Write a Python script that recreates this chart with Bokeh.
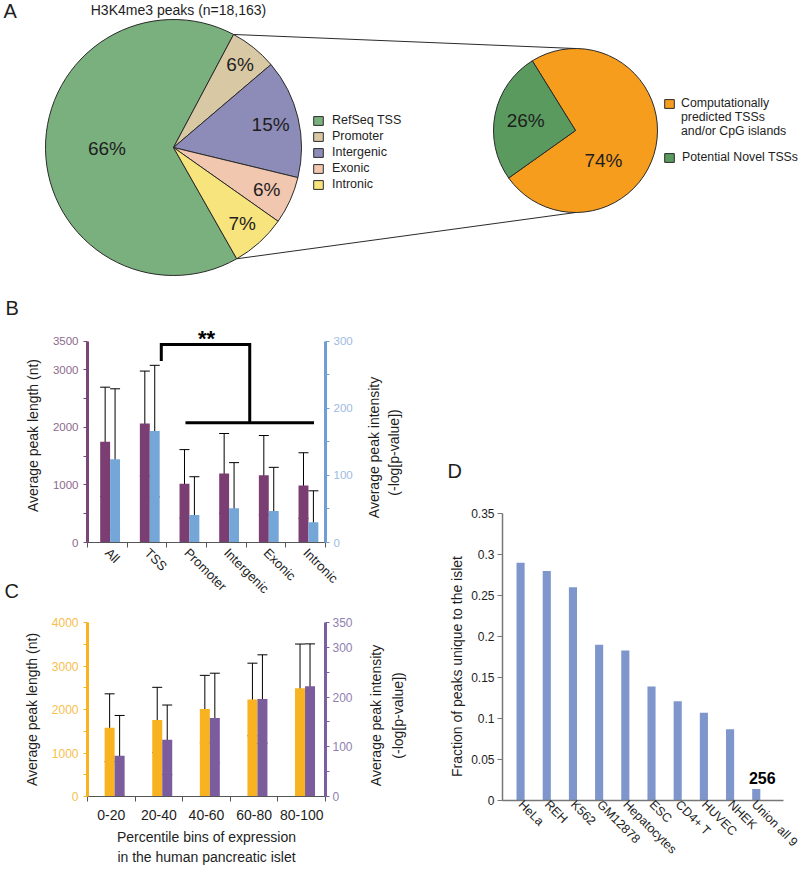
import math
from bokeh.plotting import figure
from bokeh.models import (ColumnDataSource, Range1d, LinearAxis, FixedTicker, Legend,
                          LegendItem, Label, Whisker, TeeHead, NumeralTickFormatter)
from bokeh.layouts import column, row
from bokeh.transform import dodge
from bokeh.embed import file_html
from bokeh.resources import INLINE
from bokeh.core.properties import value

FONT = "Liberation Sans"

# ---------------- data ----------------
a_title = "H3K4me3 peaks (n=18,163)"
a_cats = ["RefSeq TSS", "Promoter", "Intergenic", "Exonic", "Intronic"]
a_pct = [66, 6, 15, 6, 7]

a2_cats = ["Computationally\npredicted TSSs\nand/or CpG islands", "Potential Novel TSSs"]
a2_pct = [74, 26]

b_cats = ["All", "TSS", "Promoter", "Intergenic", "Exonic", "Intronic"]
b_len = [1750, 2070, 1020, 1200, 1170, 990]
b_len_err = [950, 910, 595, 695, 690, 570]
b_int = [124, 166, 41, 51, 47, 30]
b_int_err = [105, 98, 57, 68, 65, 47]
b_sig_text = "**"

c_cats = ["0-20", "20-40", "40-60", "60-80", "80-100"]
c_len = [1580, 1760, 2010, 2230, 2490]
c_len_err = [780, 750, 775, 835, 1015]
c_int = [82, 114, 158, 196, 222]
c_int_err = [81, 70, 90, 89, 85]

d_cats = ["HeLa", "REH", "K562", "GM12878", "Hepatocytes", "ESC", "CD4+ T",
          "HUVEC", "NHEK", "Union all 9"]
d_frac = [0.290, 0.280, 0.260, 0.190, 0.183, 0.139, 0.121, 0.107, 0.087, 0.014]
d_count_label = "256"

len_title = "Average peak length (nt)"
int_title = ["Average peak intensity", "(-log[p-value])"]
c_xtitle = "Percentile bins of expression\nin the human pancreatic islet"
d_ytitle = "Fraction of peaks unique to the islet"

# ---------------- styles ----------------
A_COLORS = ["#7ab07e", "#d8c9a4", "#8d8cb8", "#f2c7b0", "#f8e47c"]
A2_COLORS = ["#f79d1e", "#5a9a5e"]
B_PURPLE, B_PURPLE_AX, B_PURPLE_LB = "#7a3e72", "#7b4577", "#8c6a8c"
B_BLUE, B_BLUE_AX, B_BLUE_LB = "#74a7d8", "#6f9fd2", "#9dbbe0"
C_ORANGE, C_ORANGE_AX, C_ORANGE_LB = "#f9b320", "#f8b322", "#f6c04a"
C_PURPLE, C_PURPLE_AX, C_PURPLE_LB = "#7b5d9e", "#7b5f9f", "#8f7fb1"
D_BAR = "#7f96cc"
INK = "#1e1e1e"
TXT = dict(text_font=value(FONT), text_color=INK)


def base_fig(**kw):
    p = figure(output_backend="svg", toolbar_location=None, **kw)
    p.grid.visible = False
    p.outline_line_color = None
    p.background_fill_color = "white"
    p.border_fill_color = "white"
    return p


def blank_fig(w, h):
    return base_fig(width=w, height=h, x_range=Range1d(0, w), y_range=Range1d(0, h),
                    x_axis_type=None, y_axis_type=None, min_border_left=0,
                    min_border_right=0, min_border_top=0, min_border_bottom=0)


def style_axis(ax, color, label_color, width=1, size="12px"):
    ax.axis_line_color = color
    ax.axis_line_width = width
    ax.major_tick_line_color = color
    ax.minor_tick_line_color = color
    ax.major_tick_in = 0
    ax.minor_tick_in = 0
    ax.major_label_text_color = label_color
    ax.major_label_text_font = FONT
    ax.major_label_text_font_size = size
    ax.axis_label_text_font = FONT
    ax.axis_label_text_font_style = "normal"
    ax.axis_label_text_font_size = "14px"
    ax.axis_label_text_color = INK


def pie_geometry(pcts, start_deg, order, clockwise):
    starts = [0.0] * len(pcts)
    ends = [0.0] * len(pcts)
    ang = start_deg
    for i in order:
        span = pcts[i] * 3.6
        if clockwise:
            ends[i] = ang
            starts[i] = ang - span
            ang = starts[i]
        else:
            starts[i] = ang
            ends[i] = ang + span
            ang = ends[i]
    return starts, ends


# ---------------- Panel A ----------------
HA = 284
pA = blank_fig(800, HA)

LCX, LCY, LR = 173, 137, 128
RCX, RCY, RR = 575, 154, 82
a_label_r = [0.52, 0.83, 0.78, 0.8, 0.8]
a2_label_r = [0.5, 0.62]
a2_label_ang = [-47, None]

s1, e1 = pie_geometry(a_pct, 62, [1, 2, 3, 4, 0], clockwise=True)
mid1 = [(s + e) / 2 for s, e in zip(s1, e1)]
srcA = ColumnDataSource(dict(
    start=[math.radians(v) for v in s1], end=[math.radians(v) for v in e1],
    color=A_COLORS, lab=[f"{v}%" for v in a_pct],
    lx=[LCX + f * LR * math.cos(math.radians(m)) for f, m in zip(a_label_r, mid1)],
    ly=[LCY + f * LR * math.sin(math.radians(m)) for f, m in zip(a_label_r, mid1)],
))
rA = pA.wedge(x=LCX, y=LCY, radius=LR, start_angle="start", end_angle="end",
              fill_color="color", line_color="#2a2a2a", line_width=1, source=srcA)

s2, e2 = pie_geometry(a2_pct, 121.8, [1, 0], clockwise=False)
mid2 = [(s + e) / 2 if o is None else o for s, e, o in zip(s2, e2, a2_label_ang)]
srcA2 = ColumnDataSource(dict(
    start=[math.radians(v) for v in s2], end=[math.radians(v) for v in e2],
    color=A2_COLORS, lab=[f"{v}%" for v in a2_pct],
    lx=[RCX + f * RR * math.cos(math.radians(m)) for f, m in zip(a2_label_r, mid2)],
    ly=[RCY + f * RR * math.sin(math.radians(m)) for f, m in zip(a2_label_r, mid2)],
))
rA2 = pA.wedge(x=RCX, y=RCY, radius=RR, start_angle="start", end_angle="end",
               fill_color="color", line_color="#2a2a2a", line_width=1, source=srcA2)

# connector lines from the non-TSS part of the left pie to the right pie
top_ang = math.radians(e1[1])
bot_ang = math.radians(s1[4])
pA.segment(x0=[LCX + LR * math.cos(top_ang), LCX + LR * math.cos(bot_ang)],
           y0=[LCY + LR * math.sin(top_ang), LCY + LR * math.sin(bot_ang)],
           x1=[RCX, RCX], y1=[RCY + RR, RCY - RR], line_color="#2a2a2a", line_width=1)

for src in (srcA, srcA2):
    pA.text(x="lx", y="ly", text="lab", source=src, text_align="center",
            text_baseline="middle", text_font_size=value("19px"), **TXT)

pA.text(x=[178], y=[HA - 9], text=[a_title], text_align="center", text_baseline="middle",
        text_font_size=value("14px"), **TXT)
pA.text(x=[3], y=[HA + 0.5], text=["A"], text_align="left", text_baseline="top",
        text_font_size=value("20px"), **TXT)

blank = pA.scatter(x=[0], y=[0], size=0, fill_alpha=0, line_alpha=0)

leg_kw = dict(label_text_font=FONT, label_text_color=INK, glyph_width=12, glyph_height=11,
              padding=0, margin=0, border_line_color=None, background_fill_alpha=0,
              label_height=11)
legA = Legend(items=[LegendItem(label=a_cats[i], renderers=[rA], index=i) for i in range(5)],
              location=(312, 93), label_text_font_size="12.5px", label_standoff=8,
              spacing=2, **leg_kw)
a2_lines = a2_cats[0].split("\n")
legA2a = Legend(items=[LegendItem(label=a2_lines[0], renderers=[rA2], index=0)] +
                [LegendItem(label=t, renderers=[blank]) for t in a2_lines[1:]],
                location=(663, 146), label_text_font_size="12.3px", label_standoff=6,
                spacing=0, **leg_kw)
legA2b = Legend(items=[LegendItem(label=a2_cats[1], renderers=[rA2], index=1)],
                location=(663, 120), label_text_font_size="12.3px", label_standoff=7,
                spacing=0, **leg_kw)
for lg in (legA, legA2a, legA2b):
    pA.add_layout(lg)

# ---------------- letter strip (B, C) ----------------
HROW = 584
pL = blank_fig(20, HROW)
pL.text(x=[5, 4], y=[HROW - 23, HROW - 306], text=["B", "C"], text_align="left",
        text_baseline="alphabetic", text_font_size=value("20px"), **TXT)

# ---------------- Panel B ----------------
B_TOP = 3720
pB = base_fig(width=335, height=320, x_range=Range1d(-0.5, 5.5), y_range=Range1d(0, B_TOP),
              min_border_left=60, min_border_right=30, min_border_top=44, min_border_bottom=61)
pB.extra_y_ranges = {"inten": Range1d(0, 300 * B_TOP / 3500)}
srcB = ColumnDataSource(dict(
    x=list(range(len(b_cats))), ln=b_len,
    ln_lo=[max(0, v - e) for v, e in zip(b_len, b_len_err)],
    ln_hi=[v + e for v, e in zip(b_len, b_len_err)],
    it=b_int,
    it_lo=[max(0, v - e) for v, e in zip(b_int, b_int_err)],
    it_hi=[v + e for v, e in zip(b_int, b_int_err)],
))
BO1, BO2, BW = -0.055, 0.195, 0.25
pB.vbar(x=dodge("x", BO1, range=pB.x_range), top="ln", width=BW, source=srcB,
        fill_color=B_PURPLE, line_color=None)
pB.vbar(x=dodge("x", BO2, range=pB.x_range), top="it", width=BW, source=srcB,
        fill_color=B_BLUE, line_color=None, y_range_name="inten")
pB.add_layout(Whisker(source=srcB, base=dodge("x", BO1, range=pB.x_range), upper="ln_hi",
                      lower="ln_lo", line_color="black", line_width=1,
                      upper_head=TeeHead(size=10, line_color="black", line_width=1),
                      lower_head=TeeHead(size=10, line_color="black", line_width=1)))
pB.add_layout(Whisker(source=srcB, base=dodge("x", BO2, range=pB.x_range), upper="it_hi",
                      lower="it_lo", line_color="black", line_width=1, y_range_name="inten",
                      upper_head=TeeHead(size=10, line_color="black", line_width=1),
                      lower_head=TeeHead(size=10, line_color="black", line_width=1)))

# significance bracket: TSS vs the other annotation groups
tss_i = b_cats.index("TSS")
grp_first, grp_last = b_cats.index("Promoter"), b_cats.index("Intronic")
br_left = tss_i + 0.36
br_bar0, br_bar1 = grp_first - 0.03, grp_last + 0.21
br_mid = (br_bar0 + br_bar1) / 2
br_top, br_start, br_low = 3443, 3154, 2080
pB.line(x=[br_left, br_left, br_mid, br_mid], y=[br_start, br_top, br_top, br_low],
        line_color="black", line_width=3, line_join="miter")
pB.line(x=[br_bar0, br_bar1], y=[br_low, br_low], line_color="black", line_width=3)
pB.text(x=[2.5], y=[3545], text=[b_sig_text], text_align="center", text_baseline="alphabetic",
        text_font=value(FONT), text_font_size=value("22px"), text_font_style="bold",
        text_color="black")

pB.xaxis.ticker = FixedTicker(ticks=list(range(len(b_cats))),
                              minor_ticks=[i - 0.5 for i in range(len(b_cats) + 1)])
pB.xaxis.major_label_overrides = {i: c for i, c in enumerate(b_cats)}
pB.xaxis.major_label_orientation = -math.pi / 4
style_axis(pB.xaxis[0], "#555555", INK, 1, "13px")
pB.xaxis.major_tick_out = 0
pB.xaxis.minor_tick_out = 5
pB.xaxis.major_label_standoff = 3

pB.yaxis.ticker = FixedTicker(ticks=[0, 1000, 2000, 3000, 3500], minor_ticks=[500, 1500, 2500])
style_axis(pB.yaxis[0], B_PURPLE_AX, B_PURPLE_LB, 3, "11.5px")
pB.yaxis.bounds = (0, 3500)
pB.yaxis.major_tick_out = 4
pB.yaxis.minor_tick_out = 4
pB.yaxis.axis_label = len_title
pB.yaxis.axis_label_standoff = 9

axB2 = LinearAxis(y_range_name="inten", bounds=(0, 300),
                  ticker=FixedTicker(ticks=[0, 100, 200, 300], minor_ticks=[50, 150, 250]))
style_axis(axB2, B_BLUE_AX, B_BLUE_LB, 3, "11.5px")
axB2.major_tick_out = 4
axB2.minor_tick_out = 4
axB2.major_label_standoff = 4
pB.add_layout(axB2, "right")

# ---------------- Panel C ----------------
pC = base_fig(width=335, height=264, x_range=Range1d(-0.5, 4.5), y_range=Range1d(0, 4000),
              min_border_left=61, min_border_right=28, min_border_top=18, min_border_bottom=71)
pC.extra_y_ranges = {"inten": Range1d(0, 350)}
srcC = ColumnDataSource(dict(
    x=list(range(len(c_cats))), ln=c_len,
    ln_lo=[max(0, v - e) for v, e in zip(c_len, c_len_err)],
    ln_hi=[v + e for v, e in zip(c_len, c_len_err)],
    it=c_int,
    it_lo=[max(0, v - e) for v, e in zip(c_int, c_int_err)],
    it_hi=[v + e for v, e in zip(c_int, c_int_err)],
))
CO1, CO2, CW = -0.035, 0.175, 0.21
pC.vbar(x=dodge("x", CO1, range=pC.x_range), top="ln", width=CW, source=srcC,
        fill_color=C_ORANGE, line_color=None)
pC.vbar(x=dodge("x", CO2, range=pC.x_range), top="it", width=CW, source=srcC,
        fill_color=C_PURPLE, line_color=None, y_range_name="inten")
pC.add_layout(Whisker(source=srcC, base=dodge("x", CO1, range=pC.x_range), upper="ln_hi",
                      lower="ln_lo", line_color="black", line_width=1,
                      upper_head=TeeHead(size=10, line_color="black", line_width=1),
                      lower_head=TeeHead(size=10, line_color="black", line_width=1)))
pC.add_layout(Whisker(source=srcC, base=dodge("x", CO2, range=pC.x_range), upper="it_hi",
                      lower="it_lo", line_color="black", line_width=1, y_range_name="inten",
                      upper_head=TeeHead(size=10, line_color="black", line_width=1),
                      lower_head=TeeHead(size=10, line_color="black", line_width=1)))

pC.xaxis.ticker = FixedTicker(ticks=list(range(len(c_cats))),
                              minor_ticks=[i - 0.5 for i in range(len(c_cats) + 1)])
pC.xaxis.major_label_overrides = {i: c for i, c in enumerate(c_cats)}
style_axis(pC.xaxis[0], "#555555", INK, 1, "14px")
pC.xaxis.major_tick_out = 0
pC.xaxis.minor_tick_out = 5
pC.xaxis.major_label_standoff = 8
pC.xaxis.axis_label = c_xtitle
pC.xaxis.axis_label_standoff = 6
pC.xaxis.axis_label_text_line_height = 1.3

pC.yaxis.ticker = FixedTicker(ticks=[0, 1000, 2000, 3000, 4000],
                              minor_ticks=[500, 1500, 2500, 3500])
style_axis(pC.yaxis[0], C_ORANGE_AX, C_ORANGE_LB, 3, "12px")
pC.yaxis.major_tick_out = 4
pC.yaxis.minor_tick_out = 4
pC.yaxis.axis_label = len_title
pC.yaxis.axis_label_standoff = 9

axC2 = LinearAxis(y_range_name="inten",
                  ticker=FixedTicker(ticks=[0, 100, 200, 300, 350], minor_ticks=[50, 150, 250]))
style_axis(axC2, C_PURPLE_AX, C_PURPLE_LB, 3, "12px")
axC2.major_tick_out = 4
axC2.minor_tick_out = 4
axC2.major_label_standoff = 3
pC.add_layout(axC2, "right")

# ---------------- strip between columns: right titles of B/C, letter D, D's y title ----
WR = 111
pR = blank_fig(WR, HROW)
pR.text(x=[18, 38, 20, 42], y=[HROW - 163, HROW - 168, HROW - 431, HROW - 431],
        text=[int_title[0], int_title[1], int_title[0], int_title[1]], angle=math.pi / 2,
        text_align="center", text_baseline="middle", text_font_size=value("14px"), **TXT)
pR.text(x=[101], y=[HROW - 382], text=[d_ytitle], angle=math.pi / 2, text_align="center",
        text_baseline="middle", text_font_size=value("14px"), **TXT)
pR.text(x=[92], y=[HROW - 186], text=["D"], text_align="left", text_baseline="alphabetic",
        text_font_size=value("20px"), **TXT)

# ---------------- Panel D ----------------
pD = base_fig(width=334, height=HROW, x_range=Range1d(-0.69, 10.04), y_range=Range1d(0, 0.35),
              min_border_left=36, min_border_right=17, min_border_top=229, min_border_bottom=68)
srcD = ColumnDataSource(dict(x=list(range(len(d_cats))), frac=d_frac))
pD.vbar(x="x", top="frac", width=0.31, source=srcD, fill_color=D_BAR, line_color=None)
pD.xaxis.ticker = FixedTicker(ticks=list(range(len(d_cats))))
pD.xaxis.major_label_overrides = {i: c for i, c in enumerate(d_cats)}
pD.xaxis.major_label_orientation = -math.pi / 4
style_axis(pD.xaxis[0], "#777777", INK, 1.5, "12.5px")
pD.xaxis.major_tick_out = 0
pD.xaxis.major_label_standoff = 2
pD.yaxis.ticker = FixedTicker(ticks=[0, 0.05, 0.1, 0.15, 0.2, 0.25, 0.3, 0.35])
pD.yaxis.formatter = NumeralTickFormatter(format="0.[00]")
style_axis(pD.yaxis[0], "#777777", INK, 1.5, "12px")
pD.yaxis.major_tick_out = 5
pD.yaxis.major_label_standoff = 3
union_i = d_cats.index("Union all 9")
pD.add_layout(Label(x=union_i, y=d_frac[union_i], text=d_count_label, x_offset=6, y_offset=5,
                    text_align="center", text_baseline="bottom", text_font=FONT,
                    text_font_size="16px", text_font_style="bold", text_color="black"))

layout = column(pA, row(pL, column(pB, pC), pR, column(pD)))
open("out.html", "w").write(file_html(layout, INLINE))
